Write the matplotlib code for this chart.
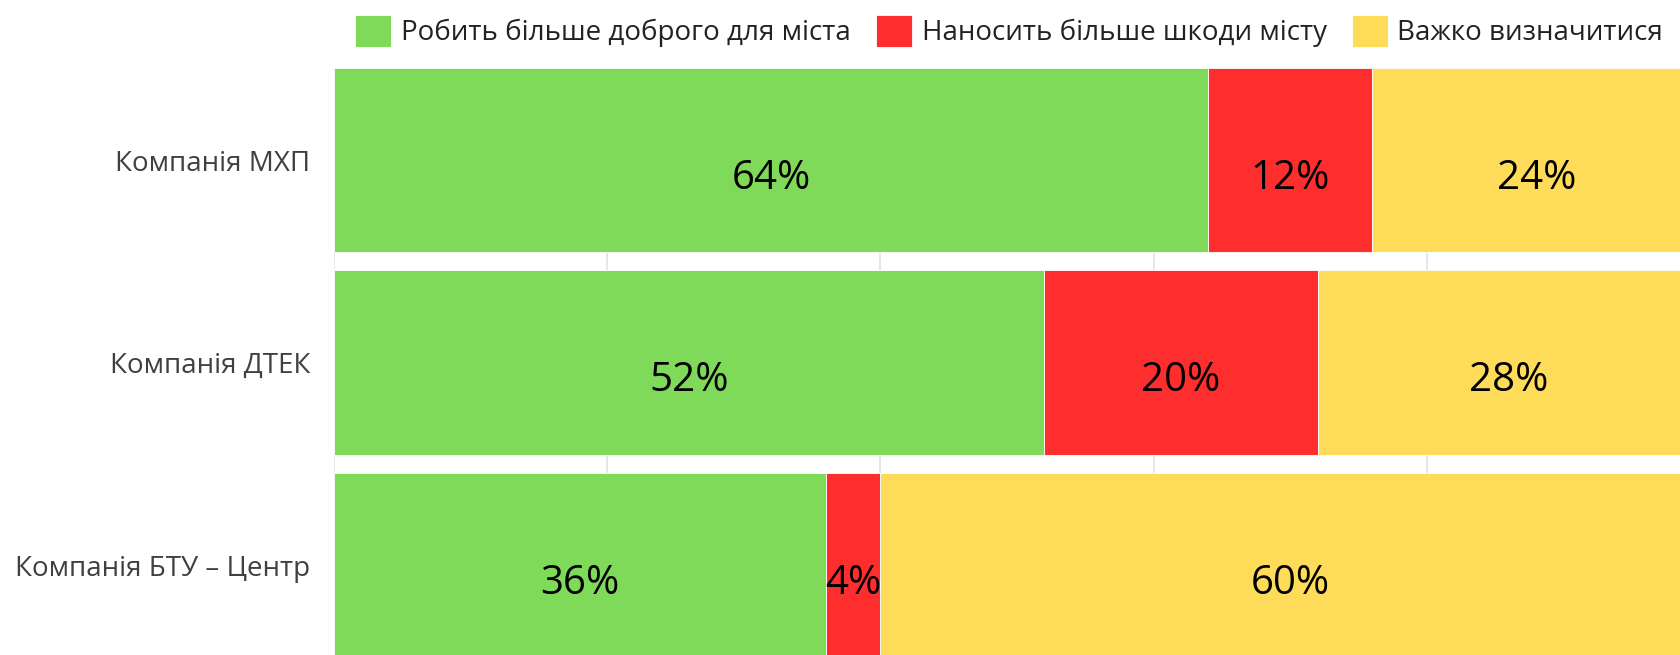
import matplotlib
matplotlib.use("Agg")
import matplotlib.pyplot as plt
import numpy as np

categories = ["Компанія МХП", "Компанія ДТЕК", "Компанія БТУ – Центр"]
series_names = ["Робить більше доброго для міста", "Наносить більше шкоди місту", "Важко визначитися"]
good = [64, 52, 36]
harm = [12, 20, 4]
hard = [24, 28, 60]
colors = ["#80DA5A", "#FE2E2E", "#FEDC5A"]

W, H = 1681, 655
fig = plt.figure(figsize=(W / 100, H / 100), dpi=100)
ax = fig.add_axes([334 / W, 0.0, 1 - 334 / W, 1 - 68 / H])

y = np.arange(len(categories))
left = np.zeros(len(categories))
for vals, name, col in zip([good, harm, hard], series_names, colors):
    vals = np.array(vals, dtype=float)
    ax.barh(y, vals, left=left, height=0.91, color=col, label=name,
            edgecolor="white", linewidth=0.6, zorder=2)
    for yi, l, v in zip(y, left, vals):
        ax.text(l + v / 2, yi + 0.09, f"{int(v)}%", ha="center", va="center",
                fontsize=29, family="Open Sans", color="black", zorder=3)
    left = left + vals

ax.set_xlim(0, 98.6)
ax.set_ylim(2.444, -0.455)
ax.set_xticks([0, 20, 40, 60, 80])
ax.xaxis.grid(True, color="#E3E3E3", linewidth=1.2, zorder=0)
ax.set_axisbelow(True)
ax.tick_params(axis="x", length=0, labelbottom=False)
ax.set_yticks(y)
ax.set_yticklabels(categories, fontsize=20, family="Open Sans", color="#404040")
ax.tick_params(axis="y", length=0, pad=17)
for s in ax.spines.values():
    s.set_visible(False)

fig.legend(loc="upper left", bbox_to_anchor=(344 / W, 1 - 4 / H), ncol=3,
           frameon=False, prop={"family": "Open Sans", "size": 20},
           handlelength=1.3, handleheight=1.4, handletextpad=0.35,
           columnspacing=0.9, borderaxespad=0, labelcolor="#222222")

fig.savefig("out.png", dpi=100)
